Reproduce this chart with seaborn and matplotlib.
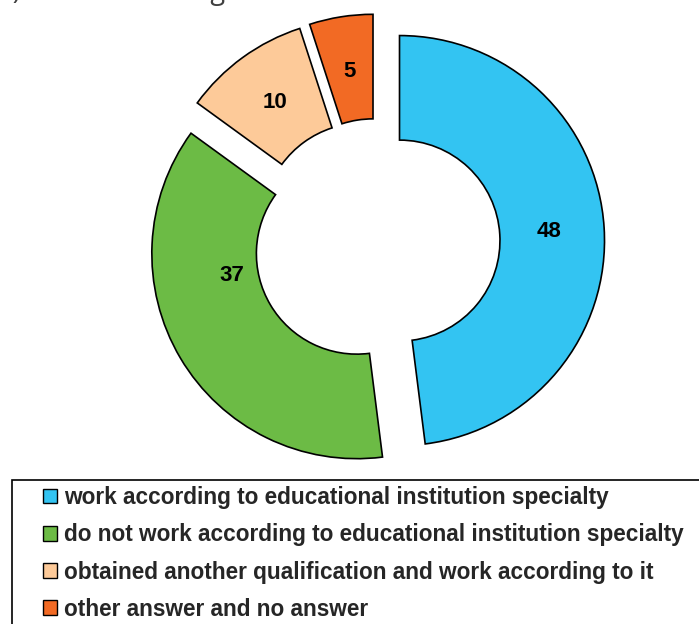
import matplotlib
matplotlib.use('Agg')
import matplotlib.pyplot as plt
import matplotlib.patches as mpatches
import numpy as np
import seaborn as sns

# ── Data ──────────────────────────────────────────────────────────────────────
categories = ['work according to educational institution specialty',
              'do not work according to educational institution specialty',
              'obtained another qualification and work according to it',
              'other answer and no answer']
values = [48, 37, 10, 5]
colors = ['#33C4F2', '#6CBB45', '#FDCA99', '#F26A24']

# ── Settings ──────────────────────────────────────────────────────────────────
sns.set_theme(style="white")
plt.rcParams['font.family'] = ['Liberation Sans', 'DejaVu Sans']

W, H = 699, 624
fig = plt.figure(figsize=(W / 100, H / 100), dpi=100, facecolor='white')
ax = fig.add_axes([0, 0, 1, 1])
ax.set_facecolor('white')

R_PX = 205.0
cx, cy = 376.6, 242.0   # pie centre in pixels (from top-left)

wedges, texts, autotexts = ax.pie(
    values, colors=colors, startangle=90, counterclock=False,
    explode=[0.112] * len(values), radius=1.0,
    autopct=lambda p: f'{p:.0f}', pctdistance=0.73,
    wedgeprops=dict(width=0.51, edgecolor='black', linewidth=1.2),
    textprops=dict(fontsize=16, fontweight='bold', color='black'))

# green label sits a bit lower/outward in the original
w = wedges[1]
ang = np.deg2rad(190)
autotexts[1].set_position((w.center[0] + 0.62 * np.cos(ang),
                           w.center[1] + 0.62 * np.sin(ang)))

ax.set_aspect('equal')
ax.set_xlim(-cx / R_PX, (W - cx) / R_PX)
ax.set_ylim(-(H - cy) / R_PX, cy / R_PX)
ax.axis('off')

# ── Legend ────────────────────────────────────────────────────────────────────
handles = [mpatches.Patch(facecolor=c, edgecolor='black', linewidth=1.0) for c in colors]
leg = fig.legend(handles, categories, loc='upper left',
                 bbox_to_anchor=(43 / W, 1 - 486 / H), frameon=False,
                 handlelength=0.62, handleheight=0.62, handletextpad=0.3,
                 labelspacing=0.63, borderpad=0, borderaxespad=0,
                 prop=dict(weight='bold', size=16.3))

fig.patches.append(mpatches.Rectangle((12 / W, -0.05), 1.0, (H - 480) / H + 0.05,
                                      transform=fig.transFigure, fill=False,
                                      edgecolor='black', linewidth=1.2))

# cut-off caption remnant at the very top
fig.text(-4 / W, 1 + 1 / H, 'b) Work according', ha='left', va='baseline',
         fontsize=19.5, color='#404040', family='Open Sans')

plt.savefig('out.png', dpi=100, facecolor='white')
